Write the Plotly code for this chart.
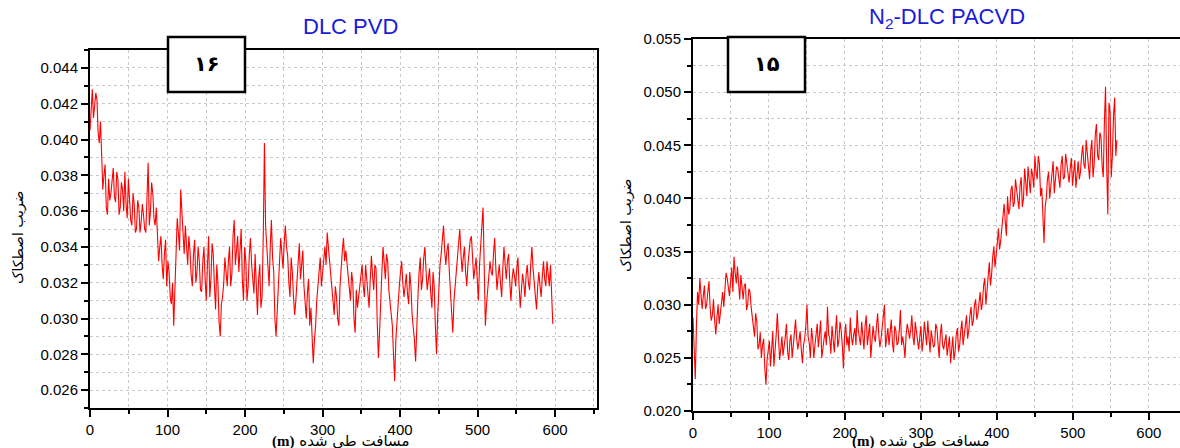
import numpy as np
import plotly.graph_objects as go

W, H = 1180, 448

# coefficient of friction, DLC PVD, read every 3 m (0, 3, 6, ...)
cof_pvd = [
    0.0405, 0.0428, 0.0418, 0.0422, 0.0398, 0.0392, 0.0380, 0.0362, 0.0378, 0.0370,
    0.0384, 0.0365, 0.0378, 0.0362, 0.0372, 0.0382, 0.0356, 0.0368, 0.0352, 0.0364,
    0.0350, 0.0362, 0.0354, 0.0358, 0.0348, 0.0387, 0.0360, 0.0370, 0.0352, 0.0345,
    0.0340, 0.0330, 0.0336, 0.0318, 0.0326, 0.0308, 0.0296, 0.0335, 0.0348, 0.0372,
    0.0345, 0.0352, 0.0330, 0.0338, 0.0318, 0.0344, 0.0326, 0.0332, 0.0315, 0.0340,
    0.0310, 0.0346, 0.0322, 0.0336, 0.0305, 0.0320, 0.0290, 0.0312, 0.0334, 0.0318,
    0.0340, 0.0325, 0.0355, 0.0338, 0.0326, 0.0350, 0.0310, 0.0332, 0.0318, 0.0345,
    0.0322, 0.0336, 0.0302, 0.0330, 0.0312, 0.0398, 0.0340, 0.0318, 0.0355, 0.0326,
    0.0290, 0.0315, 0.0345, 0.0328, 0.0352, 0.0335, 0.0312, 0.0326, 0.0302, 0.0320,
    0.0342, 0.0330, 0.0318, 0.0300, 0.0322, 0.0306, 0.0275, 0.0296, 0.0318, 0.0334,
    0.0325, 0.0340, 0.0348, 0.0332, 0.0318, 0.0302, 0.0312, 0.0296, 0.0330, 0.0345,
    0.0338, 0.0325, 0.0310, 0.0320, 0.0292, 0.0306, 0.0318, 0.0330, 0.0312, 0.0322,
    0.0306, 0.0335, 0.0316, 0.0328, 0.0278, 0.0305, 0.0340, 0.0322, 0.0332, 0.0308,
    0.0296, 0.0265, 0.0300, 0.0318, 0.0332, 0.0312, 0.0325, 0.0308, 0.0318, 0.0295,
    0.0276, 0.0312, 0.0334, 0.0322, 0.0340, 0.0316, 0.0328, 0.0306, 0.0318, 0.0280,
    0.0322, 0.0336, 0.0352, 0.0330, 0.0342, 0.0315, 0.0292, 0.0320, 0.0334, 0.0350,
    0.0326, 0.0340, 0.0318, 0.0338, 0.0346, 0.0322, 0.0334, 0.0310, 0.0345, 0.0362,
    0.0296, 0.0318, 0.0332, 0.0324, 0.0345, 0.0316, 0.0330, 0.0312, 0.0340, 0.0322,
    0.0336, 0.0310, 0.0328, 0.0318, 0.0334, 0.0306, 0.0325, 0.0312, 0.0330, 0.0316,
    0.0340, 0.0320, 0.0305, 0.0326, 0.0312, 0.0332, 0.0318, 0.0325, 0.0330, 0.0297,
]
# DLC PVD, read in between (1.5, 4.5, 7.5, ...)
cof_pvd_mid = [
    0.0420, 0.0412, 0.0426, 0.0404, 0.0410, 0.0372, 0.0386, 0.0358, 0.0366, 0.0380,
    0.0368, 0.0382, 0.0358, 0.0376, 0.0360, 0.0364, 0.0378, 0.0355, 0.0370, 0.0348,
    0.0366, 0.0348, 0.0364, 0.0350, 0.0372, 0.0352, 0.0376, 0.0356, 0.0362, 0.0332,
    0.0346, 0.0322, 0.0344, 0.0332, 0.0312, 0.0320, 0.0318, 0.0356, 0.0338, 0.0358,
    0.0336, 0.0340, 0.0346, 0.0324, 0.0336, 0.0320, 0.0340, 0.0316, 0.0332, 0.0322,
    0.0330, 0.0312, 0.0342, 0.0318, 0.0330, 0.0298, 0.0308, 0.0320, 0.0326, 0.0332,
    0.0318, 0.0346, 0.0330, 0.0346, 0.0338, 0.0322, 0.0340, 0.0310, 0.0336, 0.0330,
    0.0314, 0.0318, 0.0322, 0.0306, 0.0346, 0.0352, 0.0330, 0.0340, 0.0334, 0.0300,
    0.0304, 0.0332, 0.0336, 0.0342, 0.0340, 0.0320, 0.0334, 0.0312, 0.0310, 0.0334,
    0.0322, 0.0338, 0.0308, 0.0315, 0.0296, 0.0290, 0.0288, 0.0310, 0.0328, 0.0318,
    0.0336, 0.0330, 0.0340, 0.0322, 0.0310, 0.0318, 0.0300, 0.0318, 0.0338, 0.0332,
    0.0330, 0.0318, 0.0326, 0.0300, 0.0316, 0.0312, 0.0326, 0.0318, 0.0330, 0.0312,
    0.0322, 0.0324, 0.0330, 0.0298, 0.0292, 0.0326, 0.0330, 0.0336, 0.0316, 0.0302,
    0.0280, 0.0288, 0.0312, 0.0326, 0.0320, 0.0318, 0.0314, 0.0326, 0.0302, 0.0288,
    0.0298, 0.0326, 0.0316, 0.0334, 0.0326, 0.0322, 0.0314, 0.0326, 0.0296, 0.0302,
    0.0330, 0.0344, 0.0338, 0.0338, 0.0326, 0.0304, 0.0310, 0.0328, 0.0342, 0.0336,
    0.0334, 0.0326, 0.0330, 0.0344, 0.0330, 0.0328, 0.0322, 0.0330, 0.0352, 0.0320,
    0.0308, 0.0326, 0.0326, 0.0336, 0.0328, 0.0324, 0.0320, 0.0328, 0.0330, 0.0332,
    0.0320, 0.0322, 0.0324, 0.0328, 0.0318, 0.0316, 0.0320, 0.0324, 0.0320, 0.0330,
    0.0328, 0.0312, 0.0318, 0.0318, 0.0324, 0.0322, 0.0332, 0.0318, 0.0312,
]

# coefficient of friction, N2-DLC PACVD, read every 3 m
cof_pacvd = [
    0.0288, 0.0230, 0.0312, 0.0325, 0.0296, 0.0318, 0.0300, 0.0322, 0.0285, 0.0305,
    0.0272, 0.0300, 0.0292, 0.0312, 0.0318, 0.0325, 0.0308, 0.0335, 0.0345, 0.0320,
    0.0315, 0.0328, 0.0305, 0.0320, 0.0300, 0.0312, 0.0290, 0.0270, 0.0284, 0.0262,
    0.0250, 0.0268, 0.0225, 0.0258, 0.0242, 0.0275, 0.0255, 0.0292, 0.0248, 0.0270,
    0.0260, 0.0282, 0.0248, 0.0272, 0.0262, 0.0286, 0.0258, 0.0275, 0.0245, 0.0268,
    0.0300, 0.0264, 0.0278, 0.0250, 0.0272, 0.0260, 0.0285, 0.0262, 0.0275, 0.0298,
    0.0268, 0.0280, 0.0255, 0.0290, 0.0266, 0.0276, 0.0240, 0.0282, 0.0270, 0.0288,
    0.0262, 0.0278, 0.0295, 0.0268, 0.0284, 0.0258, 0.0290, 0.0272, 0.0250, 0.0280,
    0.0265, 0.0292, 0.0260, 0.0278, 0.0300, 0.0270, 0.0262, 0.0286, 0.0255, 0.0276,
    0.0264, 0.0295, 0.0270, 0.0250, 0.0282, 0.0268, 0.0290, 0.0262, 0.0276, 0.0258,
    0.0280, 0.0266, 0.0272, 0.0285, 0.0255, 0.0270, 0.0262, 0.0278, 0.0250, 0.0282,
    0.0258, 0.0272, 0.0262, 0.0245, 0.0270, 0.0256, 0.0278, 0.0262, 0.0285, 0.0270,
    0.0290, 0.0276, 0.0298, 0.0285, 0.0305, 0.0292, 0.0312, 0.0302, 0.0325, 0.0315,
    0.0340, 0.0328, 0.0355, 0.0345, 0.0372, 0.0360, 0.0385, 0.0378, 0.0402, 0.0390,
    0.0412, 0.0396, 0.0408, 0.0390, 0.0420, 0.0400, 0.0415, 0.0430, 0.0405, 0.0422,
    0.0440, 0.0418, 0.0432, 0.0410, 0.0358, 0.0400, 0.0425, 0.0412, 0.0435, 0.0418,
    0.0428, 0.0410, 0.0440, 0.0420, 0.0432, 0.0415, 0.0438, 0.0422, 0.0410, 0.0435,
    0.0425, 0.0450, 0.0428, 0.0440, 0.0418, 0.0455, 0.0432, 0.0470, 0.0436, 0.0458,
    0.0420, 0.0505, 0.0385, 0.0482, 0.0440, 0.0495, 0.0455,
]
# N2-DLC PACVD, read in between
cof_pacvd_mid = [
    0.0252, 0.0280, 0.0300, 0.0310, 0.0308, 0.0296, 0.0312, 0.0298, 0.0290, 0.0285,
    0.0288, 0.0282, 0.0305, 0.0298, 0.0330, 0.0315, 0.0322, 0.0312, 0.0330, 0.0336,
    0.0305, 0.0312, 0.0318, 0.0295, 0.0315, 0.0298, 0.0282, 0.0292, 0.0258, 0.0274,
    0.0262, 0.0240, 0.0248, 0.0266, 0.0260, 0.0242, 0.0272, 0.0260, 0.0258, 0.0252,
    0.0270, 0.0256, 0.0266, 0.0250, 0.0274, 0.0268, 0.0266, 0.0258, 0.0262, 0.0280,
    0.0270, 0.0250, 0.0268, 0.0262, 0.0282, 0.0270, 0.0250, 0.0268, 0.0262, 0.0272,
    0.0254, 0.0270, 0.0274, 0.0260, 0.0284, 0.0262, 0.0270, 0.0262, 0.0256, 0.0270,
    0.0272, 0.0262, 0.0276, 0.0262, 0.0272, 0.0280, 0.0262, 0.0282, 0.0268, 0.0270,
    0.0280, 0.0272, 0.0268, 0.0288, 0.0260, 0.0278, 0.0272, 0.0264, 0.0280, 0.0262,
    0.0276, 0.0262, 0.0262, 0.0272, 0.0276, 0.0276, 0.0270, 0.0284, 0.0266, 0.0270,
    0.0256, 0.0284, 0.0262, 0.0268, 0.0276, 0.0260, 0.0282, 0.0262, 0.0272, 0.0262,
    0.0266, 0.0252, 0.0270, 0.0260, 0.0248, 0.0272, 0.0256, 0.0276, 0.0262, 0.0282,
    0.0268, 0.0290, 0.0280, 0.0300, 0.0286, 0.0302, 0.0295, 0.0318, 0.0300, 0.0330,
    0.0318, 0.0345, 0.0335, 0.0358, 0.0352, 0.0372, 0.0395, 0.0365, 0.0385, 0.0408,
    0.0392, 0.0418, 0.0398, 0.0412, 0.0392, 0.0428, 0.0402, 0.0416, 0.0428, 0.0410,
    0.0425, 0.0440, 0.0402, 0.0385, 0.0392, 0.0418, 0.0400, 0.0428, 0.0405, 0.0430,
    0.0415, 0.0432, 0.0418, 0.0442, 0.0422, 0.0428, 0.0412, 0.0436, 0.0425, 0.0418,
    0.0440, 0.0432, 0.0455, 0.0430, 0.0445, 0.0420, 0.0460, 0.0440, 0.0462, 0.0430,
    0.0472, 0.0430, 0.0490, 0.0420, 0.0478, 0.0440,
]

STEP = 1.5  # metres between successive readings once merged

titles = ["DLC PVD", "N<sub>2</sub>-DLC PACVD"]
box_labels = ["۱۶", "۱۵"]
y_title = "ضریب اصطکاک"
x_title = "<span style='font-family:Liberation Serif'><b>(m)</b></span> مسافت طی شده"


def merge(main, mid):
    out = []
    for i, v in enumerate(main):
        out.append(v)
        if i < len(mid):
            out.append(mid[i])
    return out


y_pvd = merge(cof_pvd, cof_pvd_mid)
y_pacvd = merge(cof_pacvd, cof_pacvd_mid)
x_pvd = np.arange(len(y_pvd)) * STEP
x_pacvd = np.arange(len(y_pacvd)) * STEP

TICK_FONT = dict(family="Liberation Sans, Arial", size=15, color="black")
FA_FONT = "DejaVu Sans"
GRID = "#c8c8c8"


def px(x):
    return x / W


def py(y):
    return 1 - y / H


fig = go.Figure()
fig.add_trace(go.Scatter(x=x_pvd, y=y_pvd, mode="lines",
                         line=dict(color="#ff0000", width=1.1),
                         xaxis="x", yaxis="y", showlegend=False))
fig.add_trace(go.Scatter(x=x_pacvd, y=y_pacvd, mode="lines",
                         line=dict(color="#ff0000", width=1.1),
                         xaxis="x2", yaxis="y2", showlegend=False))

common_axis = dict(
    showline=True, linecolor="black", linewidth=2, automargin=False,
    ticks="outside", ticklen=7, tickwidth=1.5, tickcolor="black",
    tickfont=TICK_FONT, zeroline=False,
    showgrid=True, gridcolor=GRID, griddash="dot", gridwidth=1,
)


def minor(step):
    return dict(dtick=step, ticks="outside", ticklen=4, tickcolor="black",
                showgrid=True, gridcolor=GRID, griddash="dot")


fig.update_layout(
    width=W, height=H,
    margin=dict(l=0, r=0, t=0, b=0, autoexpand=False),
    paper_bgcolor="white", plot_bgcolor="white",
    xaxis=dict(common_axis, domain=[px(90), px(597)], range=[0, 654],
               dtick=100, mirror=True, anchor="y", minor=minor(50)),
    yaxis=dict(common_axis, domain=[py(408), py(50)], range=[0.025, 0.045],
               dtick=0.002, tickformat=".3f", mirror=True, anchor="x",
               minor=minor(0.001)),
    xaxis2=dict(common_axis, domain=[px(693), 1.0], range=[0, 641],
                dtick=100, mirror=True, anchor="y2", minor=minor(50)),
    yaxis2=dict(common_axis, domain=[py(411), py(39)], range=[0.020, 0.055],
                dtick=0.005, tickformat=".3f", mirror=False, anchor="x2",
                minor=minor(0.0025)),
)


def note(x, y, text, font, **kw):
    fig.add_annotation(x=px(x), y=py(y), xref="paper", yref="paper",
                       xanchor="center", yanchor="middle",
                       text=text, showarrow=False, font=font, **kw)


# number boxes sitting on the top edge of each panel
for (x0, x1), label in zip([(168, 245), (728, 805)], box_labels):
    fig.add_shape(type="rect", xref="paper", yref="paper",
                  x0=px(x0), x1=px(x1), y0=py(92), y1=py(37),
                  line=dict(color="black", width=2.5), fillcolor="white", layer="above")
    note((x0 + x1) / 2, 64, "<b>%s</b>" % label,
         dict(family=FA_FONT, size=21, color="black"))

# panel titles
note(350, 27, titles[0], dict(family="Liberation Sans, Arial", size=22, color="#1a1adc"))
note(947, 18, titles[1], dict(family="Liberation Sans, Arial", size=22, color="#1a1adc"))

# axis titles
for xc, yc in [(19, 237), (626, 225)]:
    note(xc, yc, y_title, dict(family=FA_FONT, size=14, color="black"), textangle=-90)
for xc in [340, 920]:
    note(xc, 441, x_title, dict(family=FA_FONT, size=15, color="black"))

# the page's default body margin would push the whole figure 8 px down and right
fig.write_html("out.html", config=dict(displayModeBar=False),
               post_script="document.body.style.margin='0';")
